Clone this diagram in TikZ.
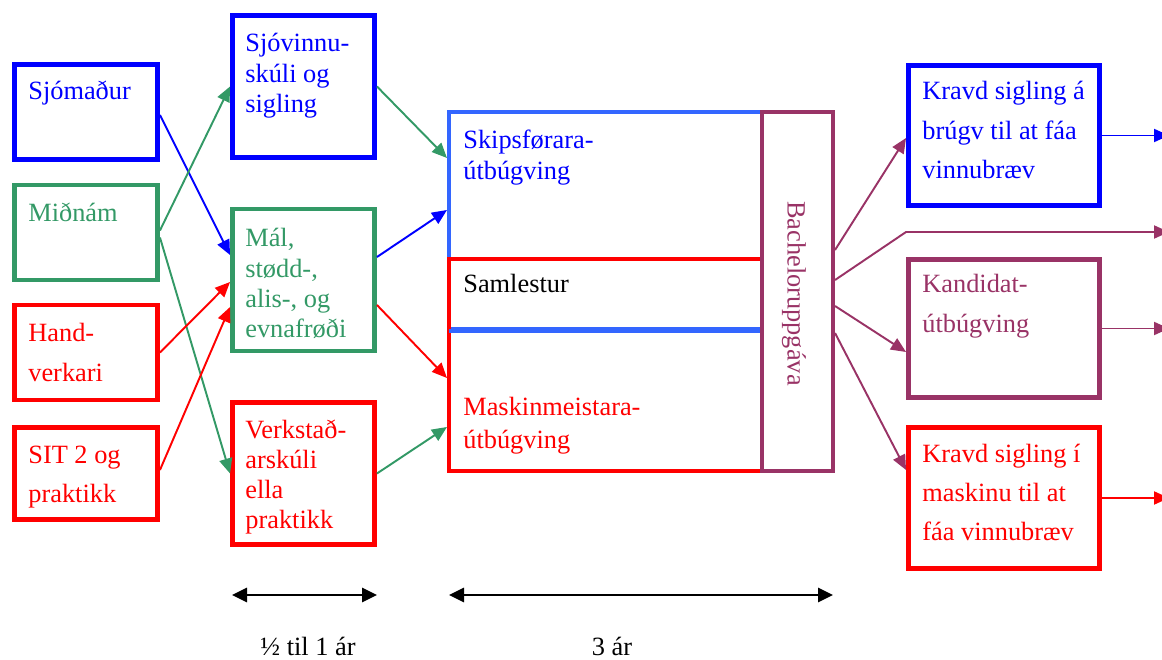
\documentclass[tikz,border=0pt]{standalone}
\usepackage{fontspec}
\setmainfont{Liberation Serif}
\usetikzlibrary{positioning, arrows.meta}
\definecolor{sjoblue}{RGB}{0,0,255}
\definecolor{lightblue}{RGB}{51,102,255}
\definecolor{midgreen}{RGB}{51,153,102}
\definecolor{hardred}{RGB}{255,0,0}
\definecolor{bachpurple}{RGB}{153,51,102}
\newcommand{\boxlines}[1]{\parbox[t]{4cm}{#1}}
\tikzset{
box/.style={draw, line width=2.8pt, inner sep=0pt}, % the coloured frames
leftbox/.style={box, minimum width=2.86cm, minimum height=1.9cm}, % first column
midbox/.style={box, minimum width=2.84cm, minimum height=2.84cm}, % second column
rightbox/.style={box, minimum width=3.82cm, minimum height=2.8cm}, % last column
txt/.style={inner sep=0pt, anchor=base west, font=\fontsize{15}{17.1}\selectfont}, % text inside the frames
widetxt/.style={txt, font=\fontsize{15}{22.6}\selectfont}, % looser lines
link/.style={line width=1.1pt, -{Triangle[length=0.3cm, width=0.26cm]}}, % arrows between frames
span/.style={line width=1.5pt, {Triangle[length=0.3cm, width=0.28cm]}-{Triangle[length=0.3cm, width=0.28cm]}}, % duration arrows
}
\begin{document}
\begin{tikzpicture}
    \useasboundingbox (0,0) rectangle (23.24,-13.2);

    % first column
    \node[leftbox, draw=sjoblue] (sjomadur) at (1.72,-2.24) {};
    \node[leftbox, draw=midgreen] (midnam) at (1.72,-4.65) {};
    \node[leftbox, draw=hardred] (handverk) at (1.72,-7.05) {};
    \node[leftbox, draw=hardred, minimum height=1.84cm] (sit) at (1.72,-9.47) {};
    \node[txt, text=sjoblue] (t-sjomadur) at (0.56,-2.0) {Sjómaður};
    \node[txt, text=midgreen] (t-midnam) at (0.56,-4.44) {Miðnám};
    \node[widetxt, text=hardred] (t-handverk) at (0.56,-6.84) {\boxlines{Hand-\\verkari}};
    \node[widetxt, text=hardred] (t-sit) at (0.56,-9.26) {\boxlines{SIT 2 og\\praktikk}};

    % second column
    \node[midbox, draw=sjoblue] (sjovinnu) at (6.07,-1.73) {};
    \node[midbox, draw=midgreen] (mal) at (6.07,-5.6) {};
    \node[midbox, draw=hardred] (verkstad) at (6.07,-9.47) {};
    \node[txt, text=sjoblue] (t-sjovinnu) at (4.9,-1.04) {\boxlines{Sjóvinnu-\\skúli og\\sigling}};
    \node[txt, text=midgreen] (t-mal) at (4.9,-4.94) {\boxlines{Mál,\\stødd-,\\alis-, og\\evnafrøði}};
    \node[txt, text=hardred] (t-verkstad) at (4.9,-8.76) {\boxlines{Verkstað-\\arskúli\\ella\\praktikk}};

    % the three year block
    \node[box, draw=lightblue, line width=2.3pt, minimum width=6.26cm, minimum height=4.34cm] (skips) at (12.11,-4.41) {};
    \node[box, draw=hardred, line width=2.3pt, minimum width=6.26cm, minimum height=4.24cm] (maskin) at (12.11,-7.3) {};
    \draw[lightblue, line width=2.3pt] ([xshift=1.15pt]maskin.north west |- skips.south) -- (skips.south east);
    \node[box, draw=bachpurple, line width=2.3pt, minimum width=1.42cm, minimum height=7.18cm] (bachelor) at (15.95,-5.83) {};
    \node[txt, text=sjoblue, font=\fontsize{15}{17.6}\selectfont] (t-skips) at (9.26,-2.98) {\boxlines{Skipsførara-\\útbúgving}};
    \node[txt] (t-samlestur) at (9.26,-5.86) {Samlestur};
    \node[txt, text=hardred, font=\fontsize{15}{18.8}\selectfont] (t-maskin) at (9.26,-8.3) {\boxlines{Maskinmeistara-\\útbúgving}};
    \node[inner sep=0pt, rotate=-90, text=bachpurple, font=\fontsize{15}{17.1}\selectfont] (t-bachelor) at (15.88,-5.87) {Bacheloruppgáva};

    % last column
    \node[rightbox, draw=sjoblue] (kravdbru) at (20.08,-2.71) {};
    \node[rightbox, draw=bachpurple, minimum height=2.76cm] (kandidat) at (20.08,-6.57) {};
    \node[rightbox, draw=hardred, minimum height=2.82cm] (kravdmask) at (20.08,-9.96) {};
    \node[widetxt, text=sjoblue, font=\fontsize{15}{22.2}\selectfont] (t-kravdbru) at (18.44,-2.0) {\boxlines{Kravd sigling á\\brúgv til at fáa\\vinnubræv}};
    \node[widetxt, text=bachpurple] (t-kandidat) at (18.44,-5.86) {\boxlines{Kandidat-\\útbúgving}};
    \node[widetxt, text=hardred, font=\fontsize{15}{22.2}\selectfont] (t-kravdmask) at (18.44,-9.24) {\boxlines{Kravd sigling í\\maskinu til at\\fáa vinnubræv}};

    \coordinate (bend) at (18.12,-4.64);
    \coordinate (out-bru) at (23.38,-2.71);
    \coordinate (out-bend) at (23.38,-4.64);
    \coordinate (out-kand) at (23.38,-6.57);
    \coordinate (out-mask) at (23.38,-9.96);

    % arrows into the second column
    \draw[link, sjoblue] ([yshift=-0.06cm]sjomadur.east) -- ([yshift=0.5cm]mal.west);
    \draw[link, midgreen] ([yshift=0.04cm]midnam.east) -- (sjovinnu.west);
    \draw[link, midgreen] ([yshift=-0.1cm]midnam.east) -- (verkstad.west);
    \draw[link, hardred] (handverk.east) -- ([yshift=-0.04cm]mal.west);
    \draw[link, hardred] ([yshift=0.07cm]sit.east) -- ([yshift=-0.54cm]mal.west);

    % arrows into the three year block
    \draw[link, midgreen] (sjovinnu.east) -- ([yshift=1.25cm]skips.west);
    \draw[link, sjoblue] ([yshift=0.46cm]mal.east) -- ([yshift=0.21cm]skips.west);
    \draw[link, hardred] ([yshift=-0.5cm]mal.east) -- ([yshift=-0.26cm]maskin.west);
    \draw[link, midgreen] (verkstad.east) -- ([yshift=-1.24cm]maskin.west);

    % arrows out of the bachelor
    \draw[link, bachpurple] ([yshift=0.83cm]bachelor.east) -- ([yshift=-0.05cm]kravdbru.west);
    \draw[link, bachpurple] ([yshift=0.23cm]bachelor.east) -- (bend) -- (out-bend);
    \draw[link, bachpurple] ([yshift=-0.29cm]bachelor.east) -- ([yshift=-0.47cm]kandidat.west);
    \draw[link, bachpurple] ([yshift=-0.83cm]bachelor.east) -- ([yshift=0.56cm]kravdmask.west);
    \draw[link, sjoblue] (kravdbru.east) -- (out-bru);
    \draw[link, bachpurple] (kandidat.east) -- (out-kand);
    \draw[link, hardred] (kravdmask.east) -- (out-mask);

    % durations
    \coordinate (half-a) at (4.64,-11.9);
    \coordinate (half-b) at (7.54,-11.9);
    \coordinate (three-a) at (8.98,-11.9);
    \coordinate (three-b) at (16.66,-11.9);
    \draw[span] (half-a) -- (half-b);
    \draw[span] (three-a) -- (three-b);
    \node[inner sep=0pt, anchor=base, font=\fontsize{15}{17.1}\selectfont] (t-half) at (6.16,-13.1) {½ til 1 ár};
    \node[inner sep=0pt, anchor=base, font=\fontsize{15}{17.1}\selectfont] (t-three) at (12.24,-13.1) {3 ár};
\end{tikzpicture}
\end{document}
